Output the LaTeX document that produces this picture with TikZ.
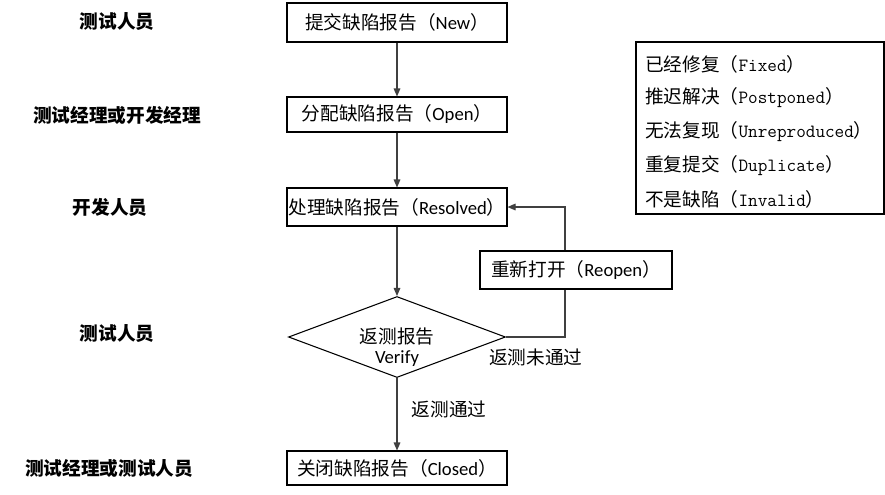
\documentclass[tikz,border=0pt]{standalone}
\usepackage{fontspec}
\setmainfont{Carlito}
\setmonofont{Latin Modern Mono}
\newfontfamily\cjk{Noto Sans CJK SC}
\usepackage{tikz}
\usetikzlibrary{positioning, arrows.meta, shapes.geometric}
\definecolor{flowLine}{HTML}{404040}
\newcommand{\zh}[1]{{\cjk #1}}

\begin{document}
\begin{tikzpicture}[x=0.75pt, y=-0.75pt,
    every node/.style={font=\fontsize{14}{16}\selectfont, inner sep=0pt},
    stepbox/.style={draw, line width=0.8pt, minimum width=165pt},
    role/.style={font=\fontsize{14}{16}\selectfont\cjk\bfseries},
    flow/.style={draw=flowLine, line width=0.8pt,
      -{Triangle[length=6pt, width=5pt]}},
  ]
    \useasboundingbox (0,0) rectangle (885,494);
    % roles on the left
    \node[role] (roleTest) at (117,22) {测试人员};
    \node[role] (roleMgr) at (117,115) {测试经理或开发经理};
    \node[role] (roleDev) at (110,207) {开发人员};
    \node[role] (roleVerify) at (117,334) {测试人员};
    \node[role] (roleClose) at (109,468) {测试经理或测试人员};
    % main flow
    \node[stepbox, minimum height=29.25pt] (new) at (397,22.5)
      {\zh{提交缺陷报告（}New\zh{）}};
    \node[stepbox, minimum height=26.25pt] (open) at (397,114.5)
      {\zh{分配缺陷报告（}Open\zh{）}};
    \node[stepbox, minimum height=28.5pt] (resolved) at (397,207)
      {\zh{处理缺陷报告（}Resolved\zh{）}};
    \node[draw, diamond, line width=0.8pt, aspect=2.68,
      minimum width=162.75pt, minimum height=60.75pt] (verify) at (397,337) {};
    \node[align=center, font=\fontsize{14}{15}\selectfont] (verifyTxt)
      at (397,347) {\zh{返测报告}\\Verify};
    \node[stepbox, minimum height=25.5pt] (closed) at (397,468)
      {\zh{关闭缺陷报告（}Closed\zh{）}};
    \node[draw, line width=0.8pt, minimum width=144pt, minimum height=28.5pt]
      (reopen) at (576,270) {\zh{重新打开（}Reopen\zh{）}};
    \coordinate (bend) at (565,208);
    % connectors
    \draw[flow] (new) -- (open);
    \draw[flow] (open) -- (resolved);
    \draw[flow] (resolved) -- (verify);
    \draw[flow] (verify) -- (closed);
    \draw[draw=flowLine, line width=0.8pt] (verify.east) -| (bend |- reopen.south);
    \draw[flow] (bend |- reopen.north) |- (resolved.east);
    \node (passTxt) at (449,409) {\zh{返测通过}};
    \node[anchor=west] (failTxt) at (489,357) {\zh{返测未通过}};
    % status legend
    \node[draw, line width=0.8pt, minimum width=186pt, minimum height=129pt]
      (legend) at (760,128) {};
    \node[anchor=west] (fixed) at (645,64) {\zh{已经修复（}\texttt{Fixed}\zh{）}};
    \node[anchor=west] (postponed) at (645,98)
      {\zh{推迟解决（}\texttt{Postponed}\zh{）}};
    \node[anchor=west] (unrepro) at (645,132)
      {\zh{无法复现（}\texttt{Unreproduced}\zh{）}};
    \node[anchor=west] (duplicate) at (645,166)
      {\zh{重复提交（}\texttt{Duplicate}\zh{）}};
    \node[anchor=west] (invalid) at (645,199)
      {\zh{不是缺陷（}\texttt{Invalid}\zh{）}};
  \end{tikzpicture}
\end{document}
